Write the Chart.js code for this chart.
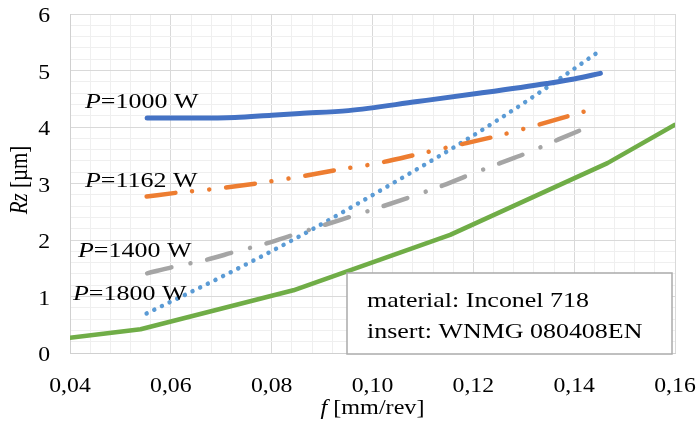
<!DOCTYPE html>
<html>
<head>
<meta charset="utf-8">
<script src="https://cdn.jsdelivr.net/npm/chart.js@4/dist/chart.umd.min.js"></script>
<style>
  html, body { margin: 0; padding: 0; background: #fff; }
  #wrap { width: 700px; height: 426px; position: relative; }
</style>
</head>
<body>
<div id="wrap"><canvas id="c" width="700" height="426"></canvas></div>
<script>
// ---- data ----
const fP1000  = [0.0553, 0.065, 0.0727, 0.080, 0.0856, 0.0952, 0.1089, 0.1214, 0.1346, 0.140, 0.1452];
const rzP1000 = [4.16,   4.16,  4.17,   4.21,  4.24,   4.29,   4.45,   4.60,   4.77,   4.85,  4.95];

const fP1162  = [0.0552, 0.0615, 0.0681, 0.0777, 0.0842, 0.0936, 0.0999, 0.1091, 0.1154, 0.1247, 0.1309, 0.1395, 0.1430];
const rzP1162 = [2.77,   2.84,   2.90,   3.01,   3.10,   3.25,   3.34,   3.52,   3.65,   3.84,   3.99,   4.21,   4.30];

const fP1400  = [0.0553, 0.0608, 0.0671, 0.0727, 0.079, 0.0843, 0.0906, 0.0994, 0.1078, 0.1141, 0.1197, 0.1253, 0.1309, 0.1369, 0.1425];
const rzP1400 = [1.41,   1.53,   1.65,   1.79,   1.94,  2.09,   2.27,   2.52,   2.77,   2.97,   3.17,   3.36,   3.55,   3.78,   3.99];

const fP1800  = [0.0552, 0.0701, 0.085, 0.0966, 0.1053, 0.1154, 0.1253, 0.1364, 0.1448];
const rzP1800 = [0.70,   1.35,   2.04,  2.62,   3.07,   3.60,   4.15,   4.81,   5.33];

const fGreen  = [0.04, 0.054, 0.0843, 0.1154, 0.1466, 0.16];
const rzGreen = [0.27, 0.42,  1.11,   2.09,   3.36,   4.04];

const seriesNames = ['P=1000 W', 'P=1162 W', 'P=1400 W', 'P=1800 W', 'model'];
const xTicksMajor = [0.04, 0.06, 0.08, 0.10, 0.12, 0.14, 0.16];
const yTicksMajor = [0, 1, 2, 3, 4, 5, 6];
const boxLines = ['material: Inconel 718', 'insert: WNMG 080408EN'];

// ---- helpers ----
const pts = (xs, ys) => xs.map((x, i) => ({ x: x, y: ys[i] }));
const isMajor = (v, list) => list.some(m => Math.abs(m - v) < 1e-9);
const SERIF = '"Liberation Serif", "Times New Roman", serif';

function fontFor(italic, fs) { return (italic ? 'italic ' : '') + fs + 'px ' + SERIF; }
// draw mixed-style text; parts = [[text, italic], ...]
function drawParts(ctx, parts, x, y, align, opt) {
  const fs = (opt && opt.fs) || 22, sx = (opt && opt.sx) || 1.18, rotate = opt && opt.rotate;
  ctx.save();
  ctx.translate(x, y);
  if (rotate) { ctx.rotate(-Math.PI / 2); ctx.scale(1, sx); }
  else { ctx.scale(sx, 1); }
  ctx.textAlign = 'left';
  ctx.textBaseline = 'alphabetic';
  let total = 0;
  parts.forEach(p => { ctx.font = fontFor(p[1], fs); total += ctx.measureText(p[0]).width; });
  let cx = align === 'center' ? -total / 2 : (align === 'right' ? -total : 0);
  parts.forEach(p => { ctx.font = fontFor(p[1], fs); ctx.fillText(p[0], cx, 0); cx += ctx.measureText(p[0]).width; });
  ctx.restore();
}

// label placement (pixels, text only)
const labelPos = [
  { x: 85, by: 108 },
  { x: 85, by: 187 },
  { x: 78, by: 257 },
  { x: 73, by: 300 }
];

const textPlugin = {
  id: 'texts',
  afterDatasetsDraw(chart) {
    const ctx = chart.ctx;
    const xs = chart.scales.x, ys = chart.scales.y;
    ctx.save();
    ctx.fillStyle = '#000';
    const tickOpt = { fs: 21, sx: 1.13 };
    xTicksMajor.forEach(v => {
      drawParts(ctx, [[v.toFixed(2).replace('.', ','), false]], xs.getPixelForValue(v), 392, 'center', tickOpt);
    });
    yTicksMajor.forEach(v => {
      drawParts(ctx, [[String(v), false]], 50, ys.getPixelForValue(v) + 8, 'right', tickOpt);
    });
    for (let i = 0; i < 4; i++) {
      const name = seriesNames[i];
      drawParts(ctx, [[name[0], true], [name.slice(1), false]], labelPos[i].x, labelPos[i].by, 'left');
    }
    // annotation box
    const bx = 347, by = 273, bw = 325, bh = 81;
    ctx.fillStyle = '#fff';
    ctx.fillRect(bx, by, bw, bh);
    ctx.strokeStyle = '#ABABAB';
    ctx.lineWidth = 1.5;
    ctx.strokeRect(bx, by, bw, bh);
    ctx.fillStyle = '#000';
    drawParts(ctx, [[boxLines[0], false]], 367, 307, 'left');
    drawParts(ctx, [[boxLines[1], false]], 367, 338, 'left');

    const xc = (xs.left + xs.right) / 2;
    drawParts(ctx, [['f', true], [' [mm/rev]', false]], xc, 414, 'center', { fs: 21, sx: 1.15 });
    drawParts(ctx, [['Rz', true], [' [µm]', false]], 27, 180, 'center', { fs: 21, sx: 1.15, rotate: true });
    ctx.restore();
  }
};

const common = { pointRadius: 0, pointHoverRadius: 0, fill: false, borderCapStyle: 'round', borderJoinStyle: 'round' };

new Chart(document.getElementById('c'), {
  type: 'line',
  data: {
    datasets: [
      Object.assign({}, common, { label: seriesNames[0], data: pts(fP1000, rzP1000), borderColor: '#4472C4', borderWidth: 5, cubicInterpolationMode: 'monotone' }),
      Object.assign({}, common, { label: seriesNames[1], data: pts(fP1162, rzP1162), borderColor: '#ED7D31', borderWidth: 4.5, cubicInterpolationMode: 'monotone', borderDash: [29, 16.7, 0.01, 17.3, 0.01, 17] }),
      Object.assign({}, common, { label: seriesNames[2], data: pts(fP1400, rzP1400), borderColor: '#A5A5A5', borderWidth: 4.5, cubicInterpolationMode: 'monotone', borderDash: [25, 19.5, 0.01, 17] }),
      Object.assign({}, common, { label: seriesNames[3], data: pts(fP1800, rzP1800), borderColor: '#5B9BD5', borderWidth: 4.5, cubicInterpolationMode: 'monotone', borderDash: [0.01, 8.5] }),
      Object.assign({}, common, { label: seriesNames[4], data: pts(fGreen, rzGreen), borderColor: '#70AD47', borderWidth: 4.5, tension: 0 })
    ]
  },
  options: {
    responsive: false,
    animation: false,
    events: [],
    layout: { padding: { top: 14, right: 25, left: 0, bottom: 0 } },
    plugins: { legend: { display: false }, tooltip: { enabled: false }, title: { display: false } },
    scales: {
      x: {
        type: 'linear',
        min: 0.04, max: 0.16,
        afterFit(s) { s.height = 73; s.paddingLeft = 0; s.paddingRight = 0; },
        border: { color: '#D0D0D0', width: 1 },
        grid: {
          drawTicks: false,
          color: c => isMajor(c.tick.value, xTicksMajor) ? '#D9D9D9' : '#EFEFEF',
          lineWidth: 1
        },
        ticks: { stepSize: 0.004, autoSkip: false, maxRotation: 0, display: false }
      },
      y: {
        type: 'linear',
        min: 0, max: 6,
        afterFit(s) { s.width = 70; s.paddingTop = 0; s.paddingBottom = 0; },
        border: { color: '#D0D0D0', width: 1 },
        grid: {
          drawTicks: false,
          color: c => isMajor(c.tick.value, yTicksMajor) ? '#D9D9D9' : '#EFEFEF',
          lineWidth: 1
        },
        ticks: { stepSize: 0.2, autoSkip: false, display: false }
      }
    }
  },
  plugins: [textPlugin]
});
</script>
</body>
</html>
